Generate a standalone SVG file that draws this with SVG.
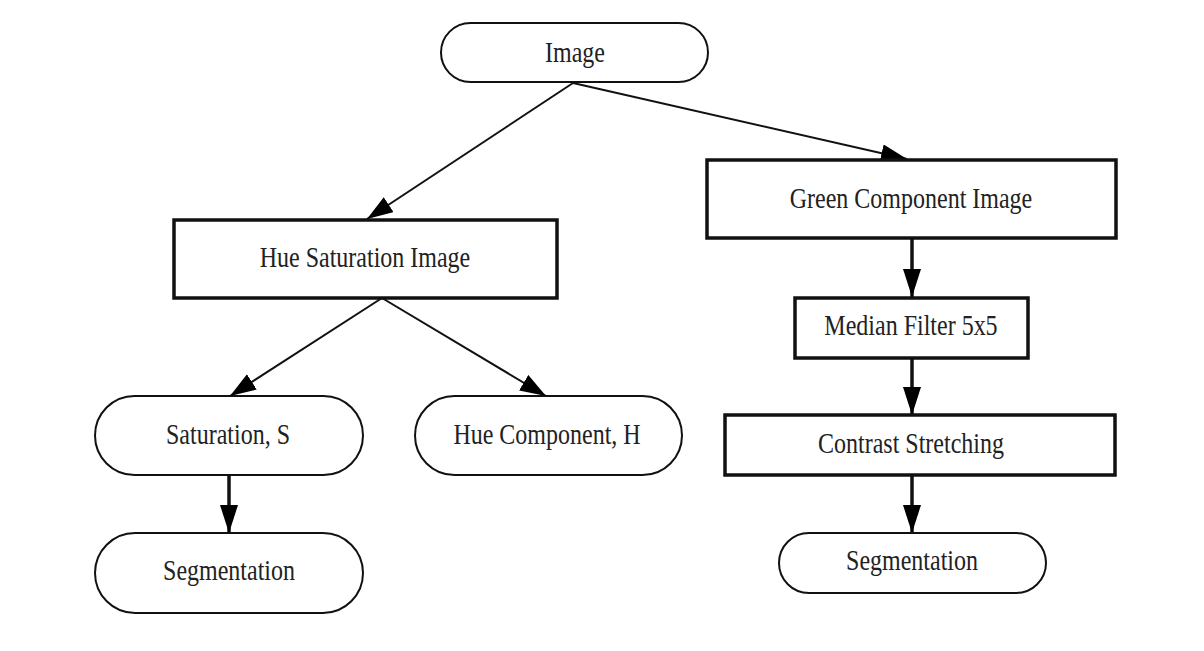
<svg xmlns="http://www.w3.org/2000/svg" width="1204" height="651" viewBox="0 0 1204 651">
<style>
.t{font-family:"Liberation Serif","Times New Roman",serif;font-size:24px;fill:#222;text-anchor:middle}
.rb{fill:#fff;stroke:#111;stroke-width:2}
.sq{fill:#fff;stroke:#111;stroke-width:3.5}
.c{stroke:#111;fill:none}
.thin{stroke-width:2}
.thick{stroke-width:3.5}
</style>
<defs>
<marker id="ah" markerUnits="userSpaceOnUse" markerWidth="30" markerHeight="20" refX="26" refY="9" orient="auto" viewBox="0 0 30 20">
<path d="M0,0 L26,9 L0,18 Z" fill="#000"/>
</marker>
<marker id="av" markerUnits="userSpaceOnUse" markerWidth="30" markerHeight="20" refX="28" refY="9" orient="auto" viewBox="0 0 30 20">
<path d="M0,0 L28,9 L0,18 Z" fill="#000"/>
</marker>
</defs>
<rect width="1204" height="651" fill="#fff"/>
<g id="connectors">
<line class="c thin" x1="573" y1="83" x2="367" y2="219" marker-end="url(#ah)"/>
<line class="c thin" x1="573" y1="83" x2="907" y2="159" marker-end="url(#ah)"/>
<line class="c thin" x1="382" y1="298" x2="230" y2="396" marker-end="url(#ah)"/>
<line class="c thin" x1="382" y1="298" x2="546" y2="396" marker-end="url(#ah)"/>
<line class="c thick" x1="229" y1="475" x2="229" y2="533" marker-end="url(#av)"/>
<line class="c thick" x1="912" y1="239" x2="912" y2="297" marker-end="url(#av)"/>
<line class="c thick" x1="912" y1="358" x2="912" y2="415" marker-end="url(#av)"/>
<line class="c thick" x1="912" y1="475" x2="912" y2="533" marker-end="url(#av)"/>
</g>
<g id="n-image"><rect class="rb" x="441" y="23" width="267" height="59" rx="29.5"/><text class="t" transform="translate(575,62) scale(1,1.2)">Image</text></g>
<g id="n-hsi"><rect class="sq" x="174" y="220" width="383" height="78"/><text class="t" transform="translate(365,267) scale(1,1.2)">Hue Saturation Image</text></g>
<g id="n-green"><rect class="sq" x="707" y="160" width="409" height="78"/><text class="t" transform="translate(911,208) scale(1,1.2)">Green Component Image</text></g>
<g id="n-median"><rect class="sq" x="795" y="298" width="233" height="60"/><text class="t" transform="translate(911,335) scale(1,1.2)">Median Filter 5x5</text></g>
<g id="n-contrast"><rect class="sq" x="725" y="415" width="390" height="60"/><text class="t" transform="translate(911,453) scale(1,1.2)">Contrast Stretching</text></g>
<g id="n-seg2"><rect class="rb" x="779" y="533" width="267" height="60" rx="30"/><text class="t" transform="translate(912,570) scale(1,1.2)">Segmentation</text></g>
<g id="n-sat"><rect class="rb" x="95" y="396" width="268" height="79" rx="39.5"/><text class="t" transform="translate(228,444) scale(1,1.2)">Saturation, S</text></g>
<g id="n-hue"><rect class="rb" x="415" y="396" width="267" height="79" rx="39.5"/><text class="t" transform="translate(547,444) scale(1,1.2)">Hue Component, H</text></g>
<g id="n-seg1"><rect class="rb" x="95" y="533" width="268" height="80" rx="40"/><text class="t" transform="translate(229,580) scale(1,1.2)">Segmentation</text></g>
</svg>
